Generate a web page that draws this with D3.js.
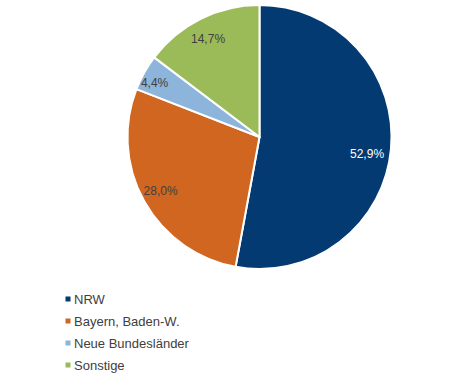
<!DOCTYPE html>
<html><head><meta charset="utf-8">
<script src="https://cdn.jsdelivr.net/npm/d3@7"></script>
<style>body{margin:0;background:#fff;}svg{display:block;}</style>
</head><body>
<svg id="c" width="470" height="382"></svg>
<script>
const categories = ["NRW", "Bayern, Baden-W.", "Neue Bundesländer", "Sonstige"];
const values = [52.9, 28.0, 4.4, 14.7];
const labels = ["52,9%", "28,0%", "4,4%", "14,7%"];
const colors = ["#043a72", "#d0661f", "#8db4da", "#9bbb59"];
const labelColors = ["#ffffff", "#404040", "#404040", "#404040"];

const svg = d3.select("#c");
const cx = 259.5, cy = 137, r = 132;
const g = svg.append("g").attr("transform", `translate(${cx},${cy})`);
const pie = d3.pie().sort(null).value(d => d);
const arcs = pie(values);
const arc = d3.arc().innerRadius(0).outerRadius(r);
const labelArc = d3.arc().innerRadius(111).outerRadius(111);
const nudge = [[-3, 7], [-2, 0], [-8, 0], [-2, 1]];

g.selectAll("path").data(arcs).enter().append("path")
  .attr("d", arc).attr("fill", (d,i) => colors[i])
  .attr("stroke", "#fff").attr("stroke-width", 2).attr("stroke-linejoin", "round");

g.selectAll("text").data(arcs).enter().append("text")
  .attr("transform", (d,i) => {
    const p = labelArc.centroid(d);
    return `translate(${p[0] + nudge[i][0]},${p[1] + nudge[i][1]})`;
  })
  .attr("text-anchor", "middle").attr("dy", "0.35em")
  .attr("font-family", "'Liberation Sans', Arial, sans-serif").attr("font-size", 12)
  .attr("fill", (d,i) => labelColors[i])
  .text((d,i) => labels[i]);

const leg = svg.append("g");
const ly = d3.scalePoint().domain(categories).range([299, 365]);
categories.forEach((c, i) => {
  const y = ly(c);
  leg.append("rect").attr("x", 65.5).attr("y", y - 2.5).attr("width", 5).attr("height", 5).attr("fill", colors[i]);
  leg.append("text").attr("x", 74).attr("y", y).attr("dy", "0.35em")
    .attr("font-family", "'Liberation Sans', Arial, sans-serif").attr("font-size", 13)
    .attr("fill", "#404040").text(c);
});
</script>
</body></html>
